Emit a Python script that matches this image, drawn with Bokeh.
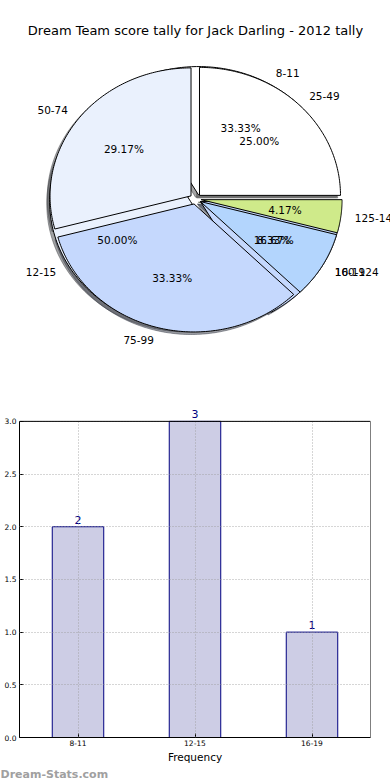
import numpy as np
from bokeh.plotting import figure
from bokeh.models import (ColumnDataSource, Range1d, FactorRange, Label, LabelSet,
                          FixedTicker, NumeralTickFormatter, BoxAnnotation, Title)
from bokeh.layouts import column
from bokeh.embed import file_html
from bokeh.resources import INLINE
from bokeh.core.properties import value

# ---------------- data ----------------
title_text = "Dream Team score tally for Jack Darling - 2012 tally"
inner_labels = ["8-11", "12-15", "16-19"]
inner_counts = [2, 3, 1]
outer_labels = ["25-49", "50-74", "75-99", "100-124", "125-149"]
outer_counts = [6, 7, 8, 2, 1]
slice_colors = ["#ffffff", "#eaf1fd", "#c5d8fd", "#b3d5fd", "#cfea8a"]
bar_categories = ["8-11", "12-15", "16-19"]
bar_values = [2, 3, 1]
y_ticks = [0.0, 0.5, 1.0, 1.5, 2.0, 2.5, 3.0]
y_max = 3
x_label = "Frequency"
watermark = "Dream-Stats.com"

FONT = "DejaVu Sans"
EXPLODE = 0.04
LABEL_D = 1.1
PCT_D = 0.6
SHADOW = 0.02


def darken(hexcol):
    h = hexcol.lstrip("#")
    r, g, b = (int(h[i:i + 2], 16) for i in (0, 2, 4))
    return "#%02x%02x%02x" % (int(r * 0.3), int(g * 0.3), int(b * 0.3))


def build(labels, counts, colors):
    total = float(sum(counts))
    fr = np.array(counts, dtype=float) / total
    ends = np.cumsum(fr) * 2 * np.pi
    starts = np.concatenate([[0.0], ends[:-1]])
    xs, ys, sx, sy = [], [], [], []
    lx, ly, la, px, py, pt = [], [], [], [], [], []
    for a0, a1, f in zip(starts, ends, fr):
        mid = 0.5 * (a0 + a1)
        cx = EXPLODE * np.cos(mid)
        cy = EXPLODE * np.sin(mid)
        t = np.linspace(a0, a1, 120)
        wx = np.concatenate([[cx], cx + np.cos(t), [cx]])
        wy = np.concatenate([[cy], cy + np.sin(t), [cy]])
        xs.append(wx.tolist()); ys.append(wy.tolist())
        sx.append((wx - SHADOW).tolist()); sy.append((wy - SHADOW).tolist())
        lx.append(cx + LABEL_D * np.cos(mid)); ly.append(cy + LABEL_D * np.sin(mid))
        la.append("left" if np.cos(mid) > 0 else "right")
        px.append(cx + PCT_D * np.cos(mid)); py.append(cy + PCT_D * np.sin(mid))
        pt.append("%.2f%%" % (100 * f))
    cols = colors[:len(counts)]
    wedge_src = ColumnDataSource(dict(xs=xs, ys=ys, color=cols))
    shadow_src = ColumnDataSource(dict(xs=sx, ys=sy, color=[darken(c) for c in cols]))
    lab_src = ColumnDataSource(dict(x=lx, y=ly, text=list(labels), align=la))
    pct_src = ColumnDataSource(dict(x=px, y=py, text=pt))
    return wedge_src, shadow_src, lab_src, pct_src


inner = build(inner_labels, inner_counts, slice_colors)
outer = build(outer_labels, outer_counts, slice_colors)

# ---------------- pie figure ----------------
W = 390
p1 = figure(width=W, height=400, output_backend="svg", toolbar_location=None,
            x_range=Range1d(-1.38298, 1.38298), y_range=Range1d(-1.57422, 1.55078),
            x_axis_location=None, y_axis_location=None,
            min_border=0, min_border_left=0, min_border_right=0,
            min_border_top=0, min_border_bottom=0)
p1.grid.visible = False
p1.outline_line_color = None

for src in (inner[1], outer[1]):
    p1.patches("xs", "ys", source=src, fill_color="color", fill_alpha=0.5,
               line_color="color", line_alpha=0.5, line_width=1)
for src in (inner[0], outer[0]):
    p1.patches("xs", "ys", source=src, fill_color="color", line_color="black",
               line_width=1)
for grp in (inner, outer):
    p1.text("x", "y", text="text", source=grp[2], text_align="align",
            text_baseline="middle", text_font=value(FONT), text_font_size="10.5px",
            text_color="black")
    p1.text("x", "y", text="text", source=grp[3], text_align="center",
            text_baseline="middle", text_font=value(FONT), text_font_size="10.5px",
            text_color="black")

p1.add_layout(Label(x=0, y=1.3164, text=title_text, text_align="center",
                    text_baseline="middle", text_font=FONT, text_font_size="13px",
                    text_color="black"))

# ---------------- bar figure ----------------
p2 = figure(width=W, height=380, output_backend="svg", toolbar_location=None,
            x_range=FactorRange(*bar_categories), y_range=Range1d(0, 3.16),
            min_border_left=19, min_border_right=20, min_border_top=4,
            min_border_bottom=40)
bar_src = ColumnDataSource(dict(x=bar_categories, top=bar_values,
                                txt=[str(v) for v in bar_values]))
p2.vbar(x="x", top="top", width=0.44, source=bar_src, fill_color="#cdcde5",
        line_color="#000080", line_width=1)
p2.add_layout(LabelSet(x="x", y="top", text="txt", source=bar_src, y_offset=3,
                       text_align="center", text_baseline="bottom",
                       text_font=value(FONT), text_font_size="11px",
                       text_color="#000080"))

GRID_COLOR = "#9a9a9a"
for g in (p2.xgrid, p2.ygrid):
    g.grid_line_color = GRID_COLOR
    g.grid_line_dash = "1 2"
    g.grid_line_width = 1
    g.grid_line_alpha = 0.8
    g.level = "overlay"
p2.ygrid.ticker = FixedTicker(ticks=y_ticks)

xg = p2.xgrid[0]
if "cross_bounds" in xg.properties():
    xg.cross_bounds = (0, y_max)
else:
    xg.visible = False
    p2.segment(x0=bar_categories, y0=[0] * len(bar_categories),
               x1=bar_categories, y1=[y_max] * len(bar_categories),
               line_color=GRID_COLOR, line_dash="1 2", line_alpha=0.8,
               level="overlay")

p2.yaxis.ticker = FixedTicker(ticks=y_ticks)
p2.yaxis.formatter = NumeralTickFormatter(format="0.0")
p2.yaxis.bounds = (0, y_max)

for ax in (p2.xaxis[0], p2.yaxis[0]):
    ax.major_tick_in = 4
    ax.major_tick_out = 0
    ax.minor_tick_line_color = None
    ax.major_tick_line_color = "black"
    ax.axis_line_color = "black"
    ax.axis_line_width = 1
    ax.major_label_text_font = FONT
    ax.major_label_text_font_size = "7.5px"
    ax.major_label_text_color = "black"
    ax.major_label_standoff = 3
p2.xaxis.axis_label = x_label
p2.xaxis.axis_label_text_font = FONT
p2.xaxis.axis_label_text_font_size = "10.5px"
p2.xaxis.axis_label_text_font_style = "normal"
p2.xaxis.axis_label_text_color = "black"
p2.xaxis.axis_label_standoff = 2
p2.xaxis.major_label_standoff = 2
p2.outline_line_color = None

# plotting-area border (0 .. y_max)
p2.add_layout(BoxAnnotation(bottom=0, top=y_max, fill_alpha=0, fill_color=None,
                            line_color="black", line_width=1, line_alpha=1,
                            level="overlay"))

p2.add_layout(Title(text=watermark, align="left", offset=-19, standoff=0,
                    text_font=FONT, text_font_size="11px", text_font_style="bold",
                    text_color="#a0a0a0"), "below")

for p in (p1, p2):
    if "frame_align" in p.properties():
        p.frame_align = False

layout = column(p1, p2, spacing=0)
open("out.html", "w").write(file_html(layout, INLINE))
